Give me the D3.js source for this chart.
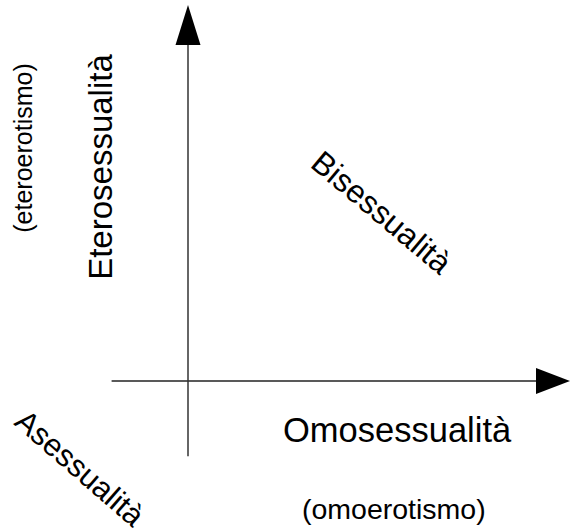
<!DOCTYPE html>
<html>
<head>
<meta charset="utf-8">
<script src="https://cdn.jsdelivr.net/npm/d3@7"></script>
<style>
  body { margin: 0; background: #fff; }
  text { font-family: "Liberation Sans", Arial, sans-serif; fill: #000; }
</style>
</head>
<body>
<script>
const width = 570
const height = 528

// axis extents in diagram units (origin at 0)
const xExtent = [-2, 10]
const yExtent = [-2, 10]

// labels
const axisLabels = ["Omosessualità", "Eterosessualità"]
const subLabels = ["(omoerotismo)", "(eteroerotismo)"]
const diagLabels = ["Bisessualità", "Asessualità"]

const x = d3.scaleLinear().domain([0, 10]).range([188, 570])
const y = d3.scaleLinear().domain([0, 10]).range([381, 5])

const svg = d3.select("body").append("svg")
    .attr("width", width)
    .attr("height", height)
    .attr("viewBox", [0, 0, width, height])

// axis lines
svg.append("line")
    .attr("x1", x(xExtent[0])).attr("x2", x(xExtent[1]) - 30)
    .attr("y1", y(0)).attr("y2", y(0))
    .attr("stroke", "#222").attr("stroke-width", 1.5)

svg.append("line")
    .attr("x1", x(0)).attr("x2", x(0))
    .attr("y1", y(yExtent[0])).attr("y2", y(yExtent[1]) + 36)
    .attr("stroke", "#333").attr("stroke-width", 1.5)

// arrow heads
const hx = x(xExtent[1]), hy = y(0)
svg.append("path")
    .attr("d", `M${hx},${hy} L${hx - 34},${hy - 13} L${hx - 34},${hy + 13} Z`)
    .attr("fill", "#000")

const vx = x(0), vy = y(yExtent[1])
svg.append("path")
    .attr("d", `M${vx},${vy} L${vx - 12.5},${vy + 40} L${vx + 12.5},${vy + 40} Z`)
    .attr("fill", "#000")

// horizontal axis labels
svg.append("text")
    .attr("x", 283).attr("y", 442)
    .attr("font-size", 34.5)
    .text(axisLabels[0])

svg.append("text")
    .attr("x", 302).attr("y", 519)
    .attr("font-size", 28.5)
    .text(subLabels[0])

// vertical axis labels
svg.append("text")
    .attr("transform", "translate(112,167) rotate(-90)")
    .attr("text-anchor", "middle")
    .attr("font-size", 33)
    .text(axisLabels[1])

svg.append("text")
    .attr("transform", "translate(32,148) rotate(-90)")
    .attr("text-anchor", "middle")
    .attr("font-size", 25)
    .text(subLabels[1])

// diagonal labels
svg.append("text")
    .attr("transform", "translate(309,166) rotate(40)")
    .attr("font-size", 32)
    .text(diagLabels[0])

svg.append("text")
    .attr("transform", "translate(13,424) rotate(41)")
    .attr("font-size", 31)
    .text(diagLabels[1])
</script>
</body>
</html>
